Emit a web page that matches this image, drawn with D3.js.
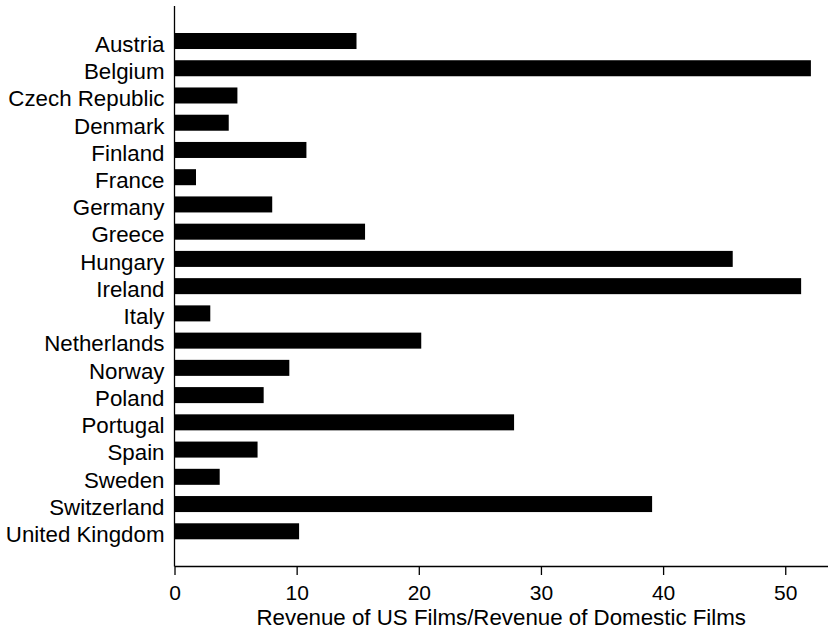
<!DOCTYPE html>
<html>
<head>
<meta charset="utf-8">
<script src="https://cdn.jsdelivr.net/npm/d3@7"></script>
<style>
  html, body { margin: 0; padding: 0; background: #fff; }
  svg text { font-family: "Liberation Sans", Arial, Helvetica, sans-serif; fill: #000; }
</style>
</head>
<body>
<svg id="chart" width="828" height="631"></svg>
<script>
// Ratio of US-film box office revenue to domestic-film revenue, by country
const countries = [
  "Austria", "Belgium", "Czech Republic", "Denmark", "Finland", "France",
  "Germany", "Greece", "Hungary", "Ireland", "Italy", "Netherlands",
  "Norway", "Poland", "Portugal", "Spain", "Sweden", "Switzerland",
  "United Kingdom"
];
const ratios = [
  14.9, 52.1, 5.15, 4.44, 10.8, 1.76,
  8.0, 15.6, 45.7, 51.3, 2.93, 20.2,
  9.4, 7.3, 27.8, 6.8, 3.7, 39.1,
  10.2
];
const xTicks = [0, 10, 20, 30, 40, 50];
const xTitle = "Revenue of US Films/Revenue of Domestic Films";

const svg = d3.select("#chart");

const plotLeft = 174.5, plotRight = 828;
const axisTop = 6, axisBottom = 566;

const x = d3.scaleLinear().domain([0, 53.5]).range([plotLeft, plotRight]);
const y = d3.scaleBand().domain(countries).range([33, 539.3]).paddingInner(0.412).paddingOuter(0);

// bars
svg.append("g")
  .selectAll("rect")
  .data(countries.map((c, i) => ({ c, v: ratios[i] })))
  .join("rect")
  .attr("x", x(0))
  .attr("y", d => y(d.c))
  .attr("width", d => x(d.v) - x(0))
  .attr("height", y.bandwidth())
  .attr("fill", "#000");

// category labels
svg.append("g")
  .selectAll("text")
  .data(countries)
  .join("text")
  .attr("x", 164.5)
  .attr("y", d => y(d) + y.bandwidth() / 2 + 10.8)
  .attr("text-anchor", "end")
  .style("font-size", "22.3px")
  .text(d => d);

// vertical axis line
svg.append("line")
  .attr("x1", plotLeft).attr("x2", plotLeft)
  .attr("y1", axisTop).attr("y2", axisBottom + 0.5)
  .attr("stroke", "#000").attr("stroke-width", 1.3);

// horizontal axis
const xAxis = d3.axisBottom(x).tickValues(xTicks).tickSize(9).tickPadding(10).tickSizeOuter(0);
const gx = svg.append("g")
  .attr("transform", `translate(0,${axisBottom})`)
  .call(xAxis);
gx.select(".domain").attr("stroke", "#000").attr("stroke-width", 1.3);
gx.selectAll(".tick line").attr("stroke", "#000").attr("stroke-width", 1.3);
gx.selectAll(".tick text")
  .style("font-family", "'Liberation Sans', Arial, sans-serif")
  .style("font-size", "21px")
  .attr("fill", "#000");

// axis title
svg.append("text")
  .attr("x", (plotLeft + plotRight) / 2)
  .attr("y", 624.5)
  .attr("text-anchor", "middle")
  .style("font-size", "22.3px")
  .text(xTitle);
</script>
</body>
</html>
